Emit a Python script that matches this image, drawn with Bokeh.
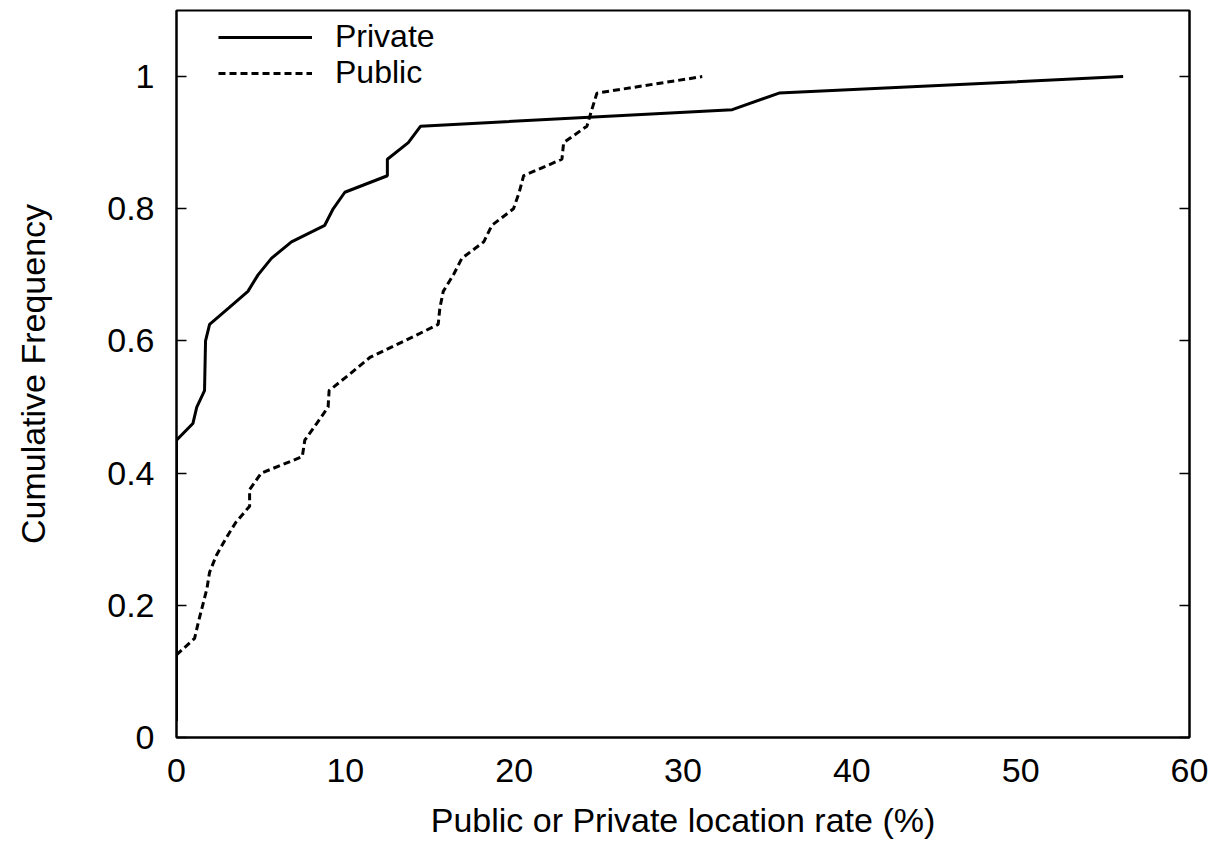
from bokeh.plotting import figure
from bokeh.models import (ColumnDataSource, Range1d, FixedTicker, LinearAxis,
                          Legend, LegendItem)
from bokeh.embed import file_html
from bokeh.resources import INLINE

# ---- data ----
cum_freq = [0.025, 0.05, 0.075, 0.1, 0.125, 0.15, 0.175, 0.2, 0.225, 0.25,
            0.275, 0.3, 0.325, 0.35, 0.375, 0.4, 0.425, 0.45, 0.475, 0.5,
            0.525, 0.55, 0.575, 0.6, 0.625, 0.65, 0.675, 0.7, 0.725, 0.75,
            0.775, 0.8, 0.825, 0.85, 0.875, 0.9, 0.925, 0.95, 0.975, 1.0]
private_rate = [0, 0, 0, 0, 0, 0, 0, 0, 0, 0, 0, 0, 0, 0, 0, 0, 0, 0,
                0.97, 1.2, 1.66, 1.68, 1.70, 1.72, 1.96, 3.1, 4.23, 4.83,
                5.62, 6.81, 8.78, 9.28, 9.97, 12.49, 12.49, 13.73, 14.46,
                32.92, 35.69, 56.07]
public_rate = [0, 0, 0, 0, 0, 1.07, 1.3, 1.55, 1.8, 1.96, 2.35, 2.9, 3.5,
               4.33, 4.33, 5.02, 7.45, 7.6, 8.3, 8.98, 9.04, 10.27, 11.45,
               13.5, 15.5, 15.6, 15.8, 16.4, 16.9, 18.2, 18.68, 19.96, 20.3,
               20.56, 22.83, 22.93, 24.31, 24.6, 24.9, 31.14]
series_names = ["Private", "Public"]
x_ticks = [0, 10, 20, 30, 40, 50, 60]
y_ticks = [0, 0.2, 0.4, 0.6, 0.8, 1]
y_tick_labels = ["0", "0.2", "0.4", "0.6", "0.8", "1"]

FONT = "Liberation Sans"
FS = "34px"

p = figure(width=1216, height=844, output_backend="svg", toolbar_location=None,
           x_range=Range1d(0, 60), y_range=Range1d(0, 1.1),
           min_border_left=176, min_border_right=27, min_border_top=10,
           min_border_bottom=107)
p.grid.visible = False
p.outline_line_color = "black"
p.outline_line_width = 2
p.background_fill_color = "white"

priv_src = ColumnDataSource(dict(x=private_rate, y=cum_freq))
pub_src = ColumnDataSource(dict(x=public_rate, y=cum_freq))
r1 = p.line("x", "y", source=priv_src, line_color="black", line_width=3)
r2 = p.line("x", "y", source=pub_src, line_color="black", line_width=3,
            line_dash="7 4")

# x axis
xa = p.xaxis[0]
xa.ticker = FixedTicker(ticks=x_ticks)
xa.axis_label = "Public or Private location rate (%)"
xa.major_tick_line_color = None
xa.minor_tick_line_color = None
xa.axis_line_color = "black"
xa.axis_line_width = 2
xa.major_label_standoff = 15
xa.axis_label_standoff = 16
xa.major_label_text_font = FONT
xa.major_label_text_font_size = FS
xa.major_label_text_color = "black"
xa.axis_label_text_font = FONT
xa.axis_label_text_font_size = FS
xa.axis_label_text_font_style = "normal"
xa.axis_label_text_color = "black"

# y axis
ya = p.yaxis[0]
ya.ticker = FixedTicker(ticks=y_ticks)
ya.major_label_overrides = {t: l for t, l in zip(y_ticks, y_tick_labels)}
ya.axis_label = "Cumulative Frequency"
ya.major_tick_in = 10
ya.major_tick_out = 0
ya.major_tick_line_width = 1.5
ya.minor_tick_line_color = None
ya.axis_line_color = "black"
ya.axis_line_width = 2
ya.major_label_standoff = 22
ya.axis_label_standoff = 52
ya.major_label_text_font = FONT
ya.major_label_text_font_size = FS
ya.major_label_text_color = "black"
ya.axis_label_text_font = FONT
ya.axis_label_text_font_size = FS
ya.axis_label_text_font_style = "normal"
ya.axis_label_text_color = "black"

# mirrored ticks on right (no labels)
ra = LinearAxis(ticker=FixedTicker(ticks=y_ticks))
ra.major_label_overrides = {t: "" for t in y_ticks}
ra.major_tick_in = 10
ra.major_tick_out = 0
ra.major_tick_line_width = 1.5
ra.minor_tick_line_color = None
ra.axis_line_color = "black"
ra.axis_line_width = 2
ra.major_label_standoff = 0
p.add_layout(ra, "right")

common = dict(padding=0, margin=0, spacing=0, glyph_width=94,
              glyph_height=30, label_height=30, label_standoff=23,
              label_text_font=FONT, label_text_font_size="32px",
              label_text_color="black", border_line_alpha=0,
              background_fill_alpha=0)
leg1 = Legend(items=[LegendItem(label=series_names[0], renderers=[r1])],
              location=(42, 682), **common)
leg2 = Legend(items=[LegendItem(label=series_names[1], renderers=[r2])],
              location=(42, 646), **common)
p.add_layout(leg1)
p.add_layout(leg2)

open("out.html", "w").write(file_html(p, INLINE))
